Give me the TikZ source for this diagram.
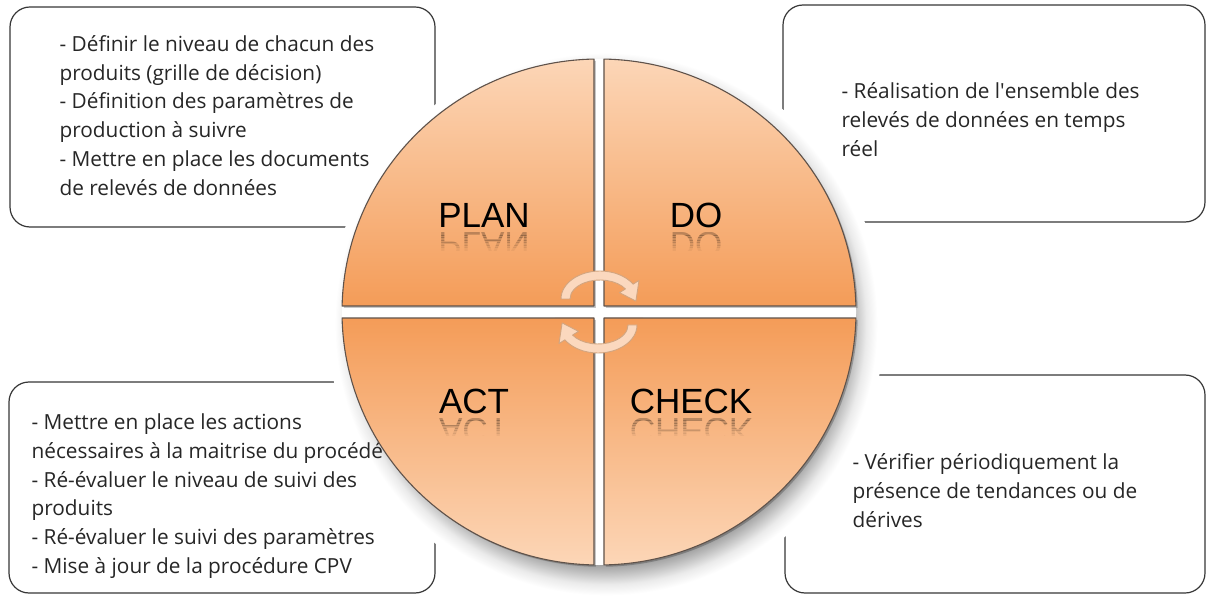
\documentclass[tikz,border=0pt]{standalone}
\usepackage{fontspec}
\usetikzlibrary{calc}
\newfontfamily\opensans{Open Sans}
\newfontfamily\arialish{Liberation Sans}

\definecolor{peachlt}{RGB}{252,214,183}
\definecolor{orangemid}{RGB}{247,180,128}
\definecolor{orangedk}{RGB}{244,156,88}
\definecolor{rimbrown}{RGB}{95,82,74}
\definecolor{arrowfill}{RGB}{251,216,190}
\definecolor{arrowrim}{RGB}{210,165,128}
\definecolor{boxline}{RGB}{55,55,55}
\definecolor{notegray}{RGB}{38,38,38}

% the path's box is mapped on the middle 50bp of the shading
\pgfdeclareradialshading{circhalo}{\pgfpoint{0bp}{0bp}}{color(0bp)=(black!50); color(20.8bp)=(black!50); color(22.2bp)=(black!28); color(23.4bp)=(black!8); color(24.4bp)=(white); color(25bp)=(white); color(50bp)=(white)}

\tikzset{
  infobox/.style={draw=boxline, line width=1.2pt, rounded corners=20pt, fill=white, inner sep=0pt},
  notetext/.style={font=\fontsize{20.8}{28.8}\selectfont\opensans, text=notegray, align=left, anchor=base west, inner sep=0pt},
  stagelabel/.style={font=\fontsize{35}{40}\selectfont\arialish, text=black, inner sep=0pt, anchor=base},
  mirrorlabel/.style={stagelabel, yscale=-1},
  quarter/.style={draw=rimbrown, line width=1.1pt, line join=round},
  toptone/.style={quarter, top color=peachlt, middle color=orangemid, bottom color=orangedk},
  lowtone/.style={quarter, top color=orangedk, middle color=orangemid, bottom color=peachlt},
  quartershade/.style={fill=black, opacity=0.22},
  spinarrow/.style={fill=arrowfill, draw=arrowrim, line width=0.9pt, line join=round},
}

\begin{document}
\begin{tikzpicture}[x=1pt,y=1pt]
\useasboundingbox (0,0) rectangle (1207,595);

% text boxes
\draw node [infobox, minimum width=425pt, minimum height=220pt] (plancard) at (222.5,478) {};
\draw node [infobox, minimum width=422pt, minimum height=217pt] (docard) at (994,481.5) {};
\draw node [infobox, minimum width=426pt, minimum height=211pt] (actcard) at (222,107.5) {};
\draw node [infobox, minimum width=420pt, minimum height=218pt] (checkcard) at (995,111) {};

% shadow of the wheel (hides the box lines near it)
\shade[shading=circhalo] (606,271) circle (278);

% (base of a multi-line node = last line)
\draw node [notetext] (plannote) at ($ (plancard.north west)+(50,-189) $)
  {- Définir le niveau de chacun des\\produits (grille de décision)\\- Définition des paramètres de\\production à suivre\\- Mettre en place les documents\\de relevés de données};
\draw node [notetext] (donote) at ($ (docard.north west)+(59,-152) $)
  {- Réalisation de l\textquotesingle ensemble des\\relevés de données en temps\\réel};
\draw node [notetext] (actnote) at ($ (actcard.north west)+(23,-192) $)
  {- Mettre en place les actions\\nécessaires à la maitrise du procédé\\- Ré-évaluer le niveau de suivi des\\produits\\- Ré-évaluer le suivi des paramètres\\- Mise à jour de la procédure CPV};
\draw node [notetext] (checknote) at ($ (checkcard.north west)+(68,-153) $)
  {- Vérifier périodiquement la\\présence de tendances ou de\\dérives};

\fill[white] (599,283) ellipse (257 and 253);

% the four quarters
\begin{scope}[shift={(599,283)}]
  \begin{scope}[shift={(1.8,-1.8)}]
    \path[quartershade] (-5,6) -- (178.64:257 and 253) arc[start angle=178.64, end angle=91.11, x radius=257, y radius=253] -- cycle;
    \path[quartershade] (5,6) -- (88.89:257 and 253) arc[start angle=88.89, end angle=1.36, x radius=257, y radius=253] -- cycle;
    \path[quartershade] (5,-6) -- (-1.36:257 and 253) arc[start angle=-1.36, end angle=-88.89, x radius=257, y radius=253] -- cycle;
    \path[quartershade] (-5,-6) -- (-91.11:257 and 253) arc[start angle=-91.11, end angle=-178.64, x radius=257, y radius=253] -- cycle;
  \end{scope}
  \path[toptone] (-5,6) -- (178.64:257 and 253) arc[start angle=178.64, end angle=91.11, x radius=257, y radius=253] -- cycle;
  \path[toptone] (5,6) -- (88.89:257 and 253) arc[start angle=88.89, end angle=1.36, x radius=257, y radius=253] -- cycle;
  \path[lowtone] (5,-6) -- (-1.36:257 and 253) arc[start angle=-1.36, end angle=-88.89, x radius=257, y radius=253] -- cycle;
  \path[lowtone] (-5,-6) -- (-91.11:257 and 253) arc[start angle=-91.11, end angle=-178.64, x radius=257, y radius=253] -- cycle;
\end{scope}

% labels
\draw node [stagelabel] (plan) at (484,367) {PLAN};
\draw node [stagelabel] (do) at (696,367) {DO};
\draw node [stagelabel] (act) at (474,182) {ACT};
\draw node [stagelabel] (check) at (691,182) {CHECK};

% reflections, faded strip by strip
\foreach \k in {0,...,6} {
  \begin{scope}
    \clip (330,{362-2.5*(\k+1)}) rectangle (870,{362-2.5*\k});
    \draw node [mirrorlabel, text opacity={0.24-0.032*\k}] (planmirror\k) at ($ (plan.base)-(0,5) $) {PLAN};
    \draw node [mirrorlabel, text opacity={0.24-0.032*\k}] (domirror\k) at ($ (do.base)-(0,5) $) {DO};
  \end{scope}
  \begin{scope}
    \clip (330,{177-2.5*(\k+1)}) rectangle (870,{177-2.5*\k});
    \draw node [mirrorlabel, text opacity={0.24-0.032*\k}] (actmirror\k) at ($ (act.base)-(0,5) $) {ACT};
    \draw node [mirrorlabel, text opacity={0.24-0.032*\k}] (checkmirror\k) at ($ (check.base)-(0,5) $) {CHECK};
  \end{scope}
}

% turning arrows
\begin{scope}[shift={(600,296)}]
  \path[spinarrow] (180:39 and 28) arc[start angle=180, end angle=32, x radius=39, y radius=28]
    -- (32:46 and 35) -- (-5:36 and 24) -- (32:23 and 12) -- (32:30 and 19)
    arc[start angle=32, end angle=180, x radius=30, y radius=19] -- cycle;
\end{scope}
\begin{scope}[shift={(598,270)}, rotate=180]
  \path[spinarrow] (180:39 and 28) arc[start angle=180, end angle=32, x radius=39, y radius=28]
    -- (32:46 and 35) -- (-5:36 and 24) -- (32:23 and 12) -- (32:30 and 19)
    arc[start angle=32, end angle=180, x radius=30, y radius=19] -- cycle;
\end{scope}

\end{tikzpicture}
\end{document}
